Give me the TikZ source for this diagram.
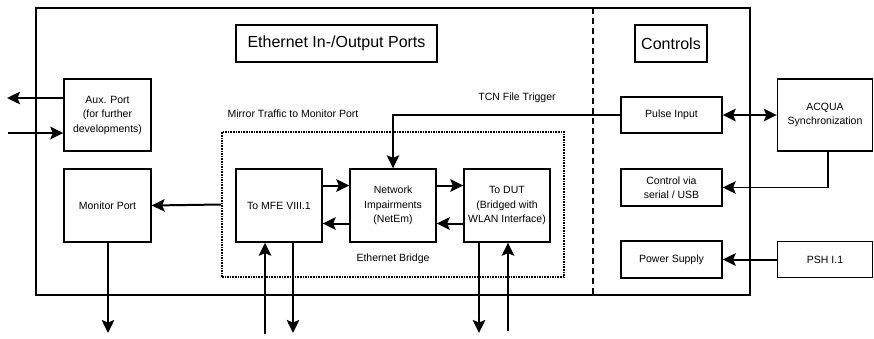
\documentclass[tikz,border=0pt]{standalone}
\usepackage{fontspec}
\setmainfont{Liberation Sans}
\usetikzlibrary{arrows.meta}
\tikzset{
  box/.style={draw, line width=1.4pt, inner sep=1.5pt, align=center,
    font=\fontsize{10.5}{14.5}\selectfont},
  headbox/.style={draw, line width=1.4pt, inner sep=2pt,
    minimum width=#1, minimum height=37pt, font=\fontsize{16}{19}\selectfont},
  lbl/.style={inner sep=0pt, font=\fontsize{10.5}{13}\selectfont},
  head/.tip={Stealth[length=13pt,width=12.5pt,inset=2.5pt]},
  bigarrow/.style={-head, line width=2pt},
  thinarrow/.style={-head, line width=1.3pt},
  twoway/.style={head-head, line width=2pt},
}
\begin{document}
\begin{tikzpicture}[x=1pt, y=-1pt]
\useasboundingbox (0,0) rectangle (874,338);

% enclosure and the divider between ports and controls
\draw[line width=1.2pt] (36,8) rectangle (750,295);
\draw[line width=1.3pt, dash pattern=on 6pt off 4pt] (593,8) -- (593,295);

% section headings
\node[headbox=201pt] (hports) at (336.5,43.5) {Ethernet In-/Output Ports};
\node[headbox=72pt] (hctrl) at (671,43.5) {Controls};

% Ethernet bridge region
\node[draw, line width=1.8pt, dash pattern=on 1.6pt off 1pt,
      minimum width=342pt, minimum height=145pt, inner sep=0pt] (bridge) at (393,204.5) {};
\node[lbl] (mirror) at (293,114) {Mirror Traffic to Monitor Port};
\node[lbl] (ebridge) at (393,259) {Ethernet Bridge};
\node[lbl] (tcn) at (517,98) {TCN File Trigger};

% port boxes
\node[box, minimum width=87pt, minimum height=72pt] (aux) at (107.5,115) {Aux. Port\\(for further\\developments)};
\node[box, minimum width=87pt, minimum height=73pt] (mon) at (107.5,205.5) {Monitor Port};
\node[box, minimum width=86pt, minimum height=73pt] (mfe) at (279,205.5) {To MFE VIII.1};
\node[box, minimum width=86pt, minimum height=73pt] (net) at (393,205.5) {Network\\Impairments\\(NetEm)};
\node[box, minimum width=86pt, minimum height=73pt] (dut) at (507,205.5) {To DUT\\(Bridged with\\WLAN Interface)};

% control boxes
\node[box, minimum width=101pt, minimum height=36pt] (pulse) at (671.5,115) {Pulse Input};
\node[box, minimum width=101pt, minimum height=37pt] (ctrl) at (671.5,187.5) {Control via\\serial / USB};
\node[box, minimum width=101pt, minimum height=37pt] (power) at (671.5,259.5) {Power Supply};
\node[box, minimum width=95pt, minimum height=72pt] (acqua) at (825,115) {ACQUA\\Synchronization};
\node[box, minimum width=95pt, minimum height=36pt] (psh) at (825,259.5) {PSH I.1};

% free ends of external links
\coordinate (auxout) at (7,98);
\coordinate (auxin) at (8,133);
\coordinate (monout) at (108,333);
\coordinate (mfein) at (265,334);
\coordinate (mfeout) at (293,333);
\coordinate (dutout) at (479,333);
\coordinate (dutin) at (508,331);

% aux port links
\draw[bigarrow] (aux.west |- auxout) -- (auxout);
\draw[bigarrow] (auxin) -- (aux.west |- auxin);

% monitor port
\draw[bigarrow] (bridge.west) -- (mon.east);
\draw[bigarrow] (mon.south -| monout) -- (monout);

% bridge chain: forward on the upper row, back on the lower row
\draw[bigarrow] ([yshift=20pt]mfe.east) -- ([yshift=20pt]net.west);
\draw[bigarrow] ([yshift=-18pt]net.west) -- ([yshift=-18pt]mfe.east);
\draw[bigarrow] ([yshift=20pt]net.east) -- ([yshift=20pt]dut.west);
\draw[bigarrow] ([yshift=-18pt]dut.west) -- ([yshift=-18pt]net.east);

% external lines of the bridge
\draw[bigarrow] (mfein) -- (mfein |- mfe.south);
\draw[bigarrow] (mfe.south -| mfeout) -- (mfeout);
\draw[bigarrow] (dut.south -| dutout) -- (dutout);
\draw[bigarrow] (dutin) -- (dutin |- dut.south);

% trigger from the pulse input
\draw[thinarrow] (pulse.west) -| (net.north);

% control links
\draw[twoway] (pulse.east) -- (acqua.west);
\draw[thinarrow] ([xshift=3pt]acqua.south) |- (ctrl.east);
\draw[bigarrow] (psh.west) -- (power.east);
\end{tikzpicture}
\end{document}
